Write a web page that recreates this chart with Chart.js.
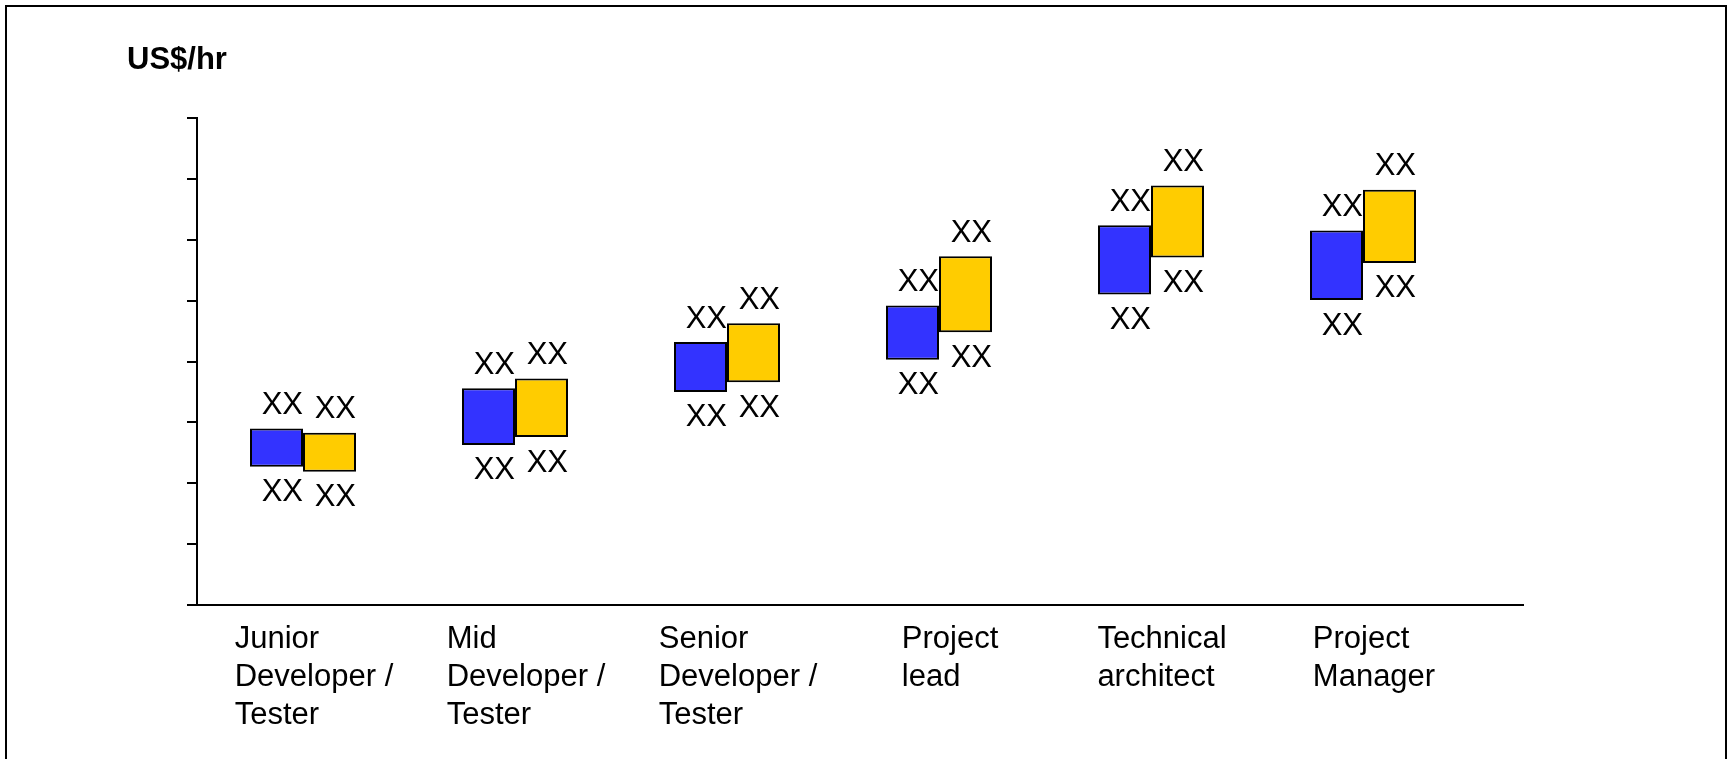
<!DOCTYPE html>
<html>
<head>
<meta charset="utf-8">
<script src="https://cdn.jsdelivr.net/npm/chart.js@4/dist/chart.umd.min.js"></script>
<style>
  html, body { margin: 0; padding: 0; background: #fff; overflow: hidden; }
  #frame {
    position: absolute; left: 5px; top: 5px; width: 1722px; height: 900px;
    box-sizing: border-box; border: 2px solid #000;
  }
  #myChart { position: absolute; left: 0; top: 0; }
</style>
</head>
<body>
<div id="frame"></div>
<canvas id="myChart" width="1732" height="759"></canvas>
<script>
  'use strict';

  // categories (one array of lines per label)
  const categories = [
    ['Junior', 'Developer /', 'Tester'],
    ['Mid', 'Developer /', 'Tester'],
    ['Senior', 'Developer /', 'Tester'],
    ['Project', 'lead'],
    ['Technical', 'architect'],
    ['Project', 'Manager']
  ];

  // rate ranges (US$/hr)
  const blueLow    = [22.7, 26.3, 35.0, 40.3, 51.0, 50.1];
  const blueHigh   = [29.0, 35.6, 43.2, 49.2, 62.4, 61.5];
  const yellowLow  = [21.9, 27.6, 36.6, 44.8, 57.1, 56.2];
  const yellowHigh = [28.3, 37.2, 46.3, 57.3, 68.9, 68.2];

  const yMin = 0;
  const yMax = 80;
  const yStep = 10;
  const valueText = 'XX';

  const FONT = '"Liberation Sans", Arial, Helvetica, sans-serif';

  // "XX" above and below every bar
  const rangeLabels = {
    id: 'rangeLabels',
    afterDatasetsDraw(chart) {
      const ctx = chart.ctx;
      ctx.save();
      ctx.font = '31px ' + FONT;
      ctx.fillStyle = '#000';
      ctx.textAlign = 'right';
      ctx.textBaseline = 'middle';
      chart.data.datasets.forEach((ds, di) => {
        chart.getDatasetMeta(di).data.forEach(bar => {
          const p = bar.getProps(['x', 'y', 'base', 'width'], true);
          const right = p.x + p.width / 2;
          const top = Math.min(p.y, p.base);
          const bottom = Math.max(p.y, p.base);
          ctx.fillText(valueText, right, top - 23);
          ctx.fillText(valueText, right, bottom + 26);
        });
      });
      ctx.restore();
    }
  };

  // x axis line (runs past the last category) and left-aligned category labels
  const xAxisDecor = {
    id: 'xAxisDecor',
    afterDraw(chart) {
      const ctx = chart.ctx;
      const area = chart.chartArea;
      const xs = chart.scales.x;
      ctx.save();
      ctx.strokeStyle = '#000';
      ctx.lineWidth = 2;
      ctx.beginPath();
      ctx.moveTo(area.left - 9, area.bottom);
      ctx.lineTo(area.right + 55, area.bottom);
      ctx.stroke();

      ctx.font = '31px ' + FONT;
      ctx.fillStyle = '#000';
      ctx.textAlign = 'left';
      ctx.textBaseline = 'middle';
      categories.forEach((lines, i) => {
        const cx = xs.getPixelForValue(i);
        const w = Math.max(...lines.map(l => ctx.measureText(l).width));
        const left = cx - w / 2 + 11;
        lines.forEach((line, li) => {
          ctx.fillText(line, left, area.bottom + 34 + li * 38.3);
        });
      });
      ctx.restore();
    }
  };

  const ctx = document.getElementById('myChart');

  new Chart(ctx, {
    type: 'bar',
    data: {
      labels: categories,
      datasets: [{
        data: blueLow.map((v, i) => [v, blueHigh[i]]),
        backgroundColor: '#3333FF',
        borderColor: '#000',
        borderWidth: 2,
        borderSkipped: false
      }, {
        data: yellowLow.map((v, i) => [v, yellowHigh[i]]),
        backgroundColor: '#FFCC00',
        borderColor: '#000',
        borderWidth: 2,
        borderSkipped: false
      }]
    },
    options: {
      responsive: false,
      animation: false,
      devicePixelRatio: 1,
      categoryPercentage: 0.5,
      barPercentage: 1.0,
      layout: {
        padding: { left: 127, top: 0, right: 263, bottom: 154 }
      },
      plugins: {
        legend: { display: false },
        tooltip: { enabled: false },
        title: {
          display: true,
          text: 'US$/hr',
          align: 'start',
          color: '#000',
          font: { family: FONT, size: 31, weight: 'bold', lineHeight: 1.2 },
          padding: { top: 42, bottom: 38.8 }
        }
      },
      scales: {
        x: {
          grid: { display: false, drawTicks: false },
          border: { display: false },
          ticks: { display: false },
          afterFit(scale) { scale.height = 0; }
        },
        y: {
          min: yMin,
          max: yMax,
          ticks: { display: false, stepSize: yStep },
          grid: {
            drawOnChartArea: false,
            drawTicks: true,
            tickLength: 10,
            lineWidth: 2,
            color: '#000'
          },
          border: { display: true, color: '#000', width: 2 },
          afterFit(scale) { scale.width = 70; }
        }
      }
    },
    plugins: [rangeLabels, xAxisDecor]
  });
</script>
</body>
</html>
